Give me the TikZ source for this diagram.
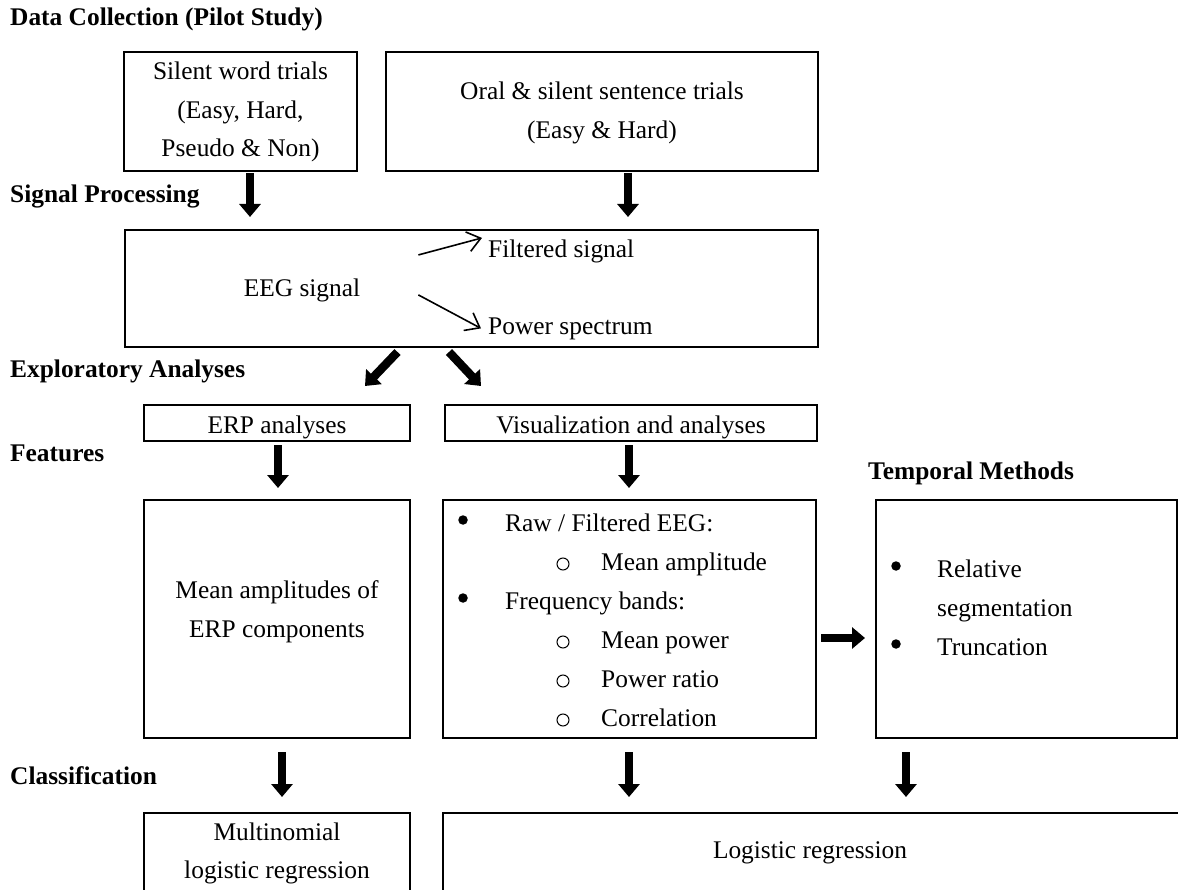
\documentclass[tikz,border=0pt]{standalone}
\usepackage{fontspec}
\setmainfont{Liberation Serif}
\usetikzlibrary{arrows.meta,calc}
\tikzset{
  box/.style={draw, line width=1.6pt, inner sep=0pt, outer sep=0pt},
  txt/.style={font=\fontsize{25.4}{38.5}\selectfont, inner sep=0pt, anchor=base},
  txtw/.style={txt, anchor=base west},
  head/.style={font=\fontsize{25.4}{38.5}\selectfont\bfseries, inner sep=0pt, anchor=base west},
  bul/.style={circle, fill, inner sep=0pt, minimum size=9.5pt},
  subbul/.style={circle, draw, line width=1pt, inner sep=0pt, minimum size=12pt},
  bigarrow/.style={line width=8.5pt, -{Triangle[width=21pt,length=13pt]}},
  thinarrow/.style={line width=1.6pt, -{Straight Barb[length=13pt,width=20pt,line width=1.6pt]}}
}
\begin{document}
\begin{tikzpicture}[x=1pt,y=-1pt]
\useasboundingbox (0,0) rectangle (1178,890);
\clip (0,0) rectangle (1178,890);

% headings
\node[head] (h1) at (10,26) {Data Collection (Pilot Study)};
\node[head] (h2) at (10,203) {Signal Processing};
\node[head] (h3) at (10,378) {Exploratory Analyses};
\node[head] (h4) at (10,461) {Features};
\node[head] (h5) at (868,479) {Temporal Methods};
\node[head] (h6) at (10,784) {Classification};

% boxes
\node[box, minimum width=233pt, minimum height=119pt] (b1) at (240.5,111.5) {};
\node[box, minimum width=432pt, minimum height=119pt] (b2) at (602,111.5) {};
\node[box, minimum width=693pt, minimum height=117pt] (eeg) at (471.5,288.5) {};
\node[box, minimum width=266pt, minimum height=36pt] (erp) at (277,423) {};
\node[box, minimum width=372pt, minimum height=36pt] (vis) at (631,423) {};
\node[box, minimum width=266pt, minimum height=238pt] (fe1) at (277,619) {};
\node[box, minimum width=373pt, minimum height=238pt] (fe2) at (629.5,619) {};
\node[box, minimum width=301pt, minimum height=238pt] (tm) at (1026.5,619) {};
\node[box, minimum width=266pt, minimum height=134pt] (cl1) at (277,880) {};
\node[box, minimum width=797pt, minimum height=134pt] (cl2) at (841.5,880) {};

% box texts
\node[txt] (t1a) at (240.5,80) {Silent word trials};
\node[txt] (t1b) at (240.5,118.5) {(Easy, Hard,};
\node[txt] (t1c) at (240.5,157) {Pseudo \& Non)};
\node[txt] (t2a) at (602,100) {Oral \& silent sentence trials};
\node[txt] (t2b) at (602,138.5) {(Easy \& Hard)};

\node[txt] (eegt) at (302,297) {EEG signal};
\node[txtw] (filt) at (488,258) {Filtered signal};
\node[txtw] (pow) at (488,335) {Power spectrum};

\node[txt] (erpt) at (277,433) {ERP analyses};
\node[txt] (vist) at (631,433) {Visualization and analyses};

\node[txt] (f1a) at (277,598) {Mean amplitudes of};
\node[txt] (f1b) at (277,637) {ERP components};

\node[bul] (u1) at (463,520) {};
\node[txtw] (l1) at (505,531) {Raw / Filtered EEG:};
\node[subbul] (s1) at (563,564) {};
\node[txtw] (l2) at (601,570) {Mean amplitude};
\node[bul] (u2) at (463,598) {};
\node[txtw] (l3) at (505,609) {Frequency bands:};
\node[subbul] (s2) at (563,642) {};
\node[txtw] (l4) at (601,648) {Mean power};
\node[subbul] (s3) at (563,681) {};
\node[txtw] (l5) at (601,687) {Power ratio};
\node[subbul] (s4) at (563,720) {};
\node[txtw] (l6) at (601,726) {Correlation};

\node[bul] (u3) at (896,566) {};
\node[txtw] (m1) at (937,577) {Relative};
\node[txtw] (m2) at (937,616) {segmentation};
\node[bul] (u4) at (896,644) {};
\node[txtw] (m3) at (937,655) {Truncation};

\node[txt] (c1a) at (277,840) {Multinomial};
\node[txt] (c1b) at (277,878) {logistic regression};
\node[txt] (c2t) at (810,858) {Logistic regression};

% thin arrows inside EEG box
\draw[thinarrow] ($(eegt.east)+(58,-36)$) -- ($(filt.west)+(-6,-14)$);
\draw[thinarrow] ($(eegt.east)+(58,4)$) -- ($(pow.west)+(-7,-1)$);

% thick arrows
\draw[bigarrow] ($(b1.south)+(9.5,2)$) -- ($(eeg.north)+(-221.5,-13)$);
\draw[bigarrow] ($(b2.south)+(26,2)$) -- ($(eeg.north)+(156.5,-13)$);
\draw[bigarrow] ($(eeg.south)+(-74,5)$) -- ($(erp.north)+(88,-19)$);
\draw[bigarrow] ($(eeg.south)+(-22.5,5)$) -- ($(vis.north)+(-150,-19)$);
\draw[bigarrow] ($(erp.south)+(1,4)$) -- ($(fe1.north)+(1,-12)$);
\draw[bigarrow] ($(vis.south)+(-2,4)$) -- ($(fe2.north)+(-0.5,-12)$);
\draw[bigarrow] ($(fe2.east)+(5,19)$) -- ($(tm.west)+(-11,19)$);
\draw[bigarrow] ($(fe1.south)+(5,14)$) -- ($(cl1.north)+(5,-16)$);
\draw[bigarrow] ($(fe2.south)+(-0.5,14)$) -- ($(cl2.north)+(-212.5,-16)$);
\draw[bigarrow] ($(tm.south)+(-120.5,14)$) -- ($(cl2.north)+(64.5,-16)$);
\end{tikzpicture}
\end{document}
